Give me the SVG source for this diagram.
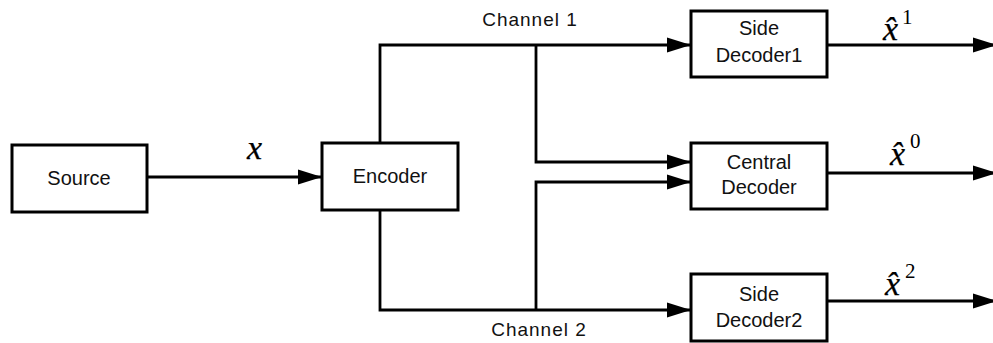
<svg xmlns="http://www.w3.org/2000/svg" width="993" height="343" viewBox="0 0 993 343">
<defs>
<marker id="ah" markerUnits="userSpaceOnUse" markerWidth="24" markerHeight="16" refX="24" refY="8" orient="auto">
<path d="M0,0.5 L24,8 L0,15.5 z" fill="#000"/>
</marker>
<style>
.box{fill:#fff;stroke:#000;stroke-width:3}
.lbl{font-family:"Liberation Sans",Arial,sans-serif;font-size:20px;fill:#111;text-anchor:middle}
.ch{font-family:"Liberation Sans",Arial,sans-serif;font-size:19px;fill:#111;text-anchor:middle;letter-spacing:1px}
.w{fill:none;stroke:#000;stroke-width:2.8}
.a{marker-end:url(#ah)}
.m{font-family:"Liberation Serif","Times New Roman",serif;font-style:italic;font-size:34px;fill:#000;stroke:#000;stroke-width:0.25}
.s{font-family:"Liberation Serif","Times New Roman",serif;font-size:21px;fill:#000}
</style>
</defs>
<rect width="993" height="343" fill="#fff"/>
<g id="connectors">
<path class="w a" d="M147,177 H322"/>
<path class="w a" d="M380,143 V45 H691"/>
<path class="w a" d="M536,45 V162 H691"/>
<path class="w a" d="M380,210 V310 H691"/>
<path class="w a" d="M536,310 V182 H691"/>
<path class="w a" d="M827,45 H997"/>
<path class="w a" d="M827,173 H997"/>
<path class="w a" d="M827,301 H997"/>
</g>
<g id="source"><rect class="box" x="12" y="145" width="135" height="67"/><text class="lbl" x="79" y="185">Source</text></g>
<g id="encoder"><rect class="box" x="322" y="143" width="136" height="67"/><text class="lbl" x="390" y="183">Encoder</text></g>
<g id="side1"><rect class="box" x="691" y="11" width="136" height="66"/><text class="lbl" x="759" y="35">Side</text><text class="lbl" x="759" y="62">Decoder1</text></g>
<g id="central"><rect class="box" x="691" y="143" width="136" height="66"/><text class="lbl" x="759" y="169">Central</text><text class="lbl" x="759" y="194">Decoder</text></g>
<g id="side2"><rect class="box" x="691" y="274" width="136" height="67"/><text class="lbl" x="759" y="301">Side</text><text class="lbl" x="759" y="327">Decoder2</text></g>
<g id="labels">
<text class="ch" x="530" y="26">Channel 1</text>
<text class="ch" x="539" y="336">Channel 2</text>
<text class="m" x="247" y="159">x</text>
<text class="m" x="883" y="40">x̂</text><text class="s" x="902" y="24">1</text>
<text class="m" x="890" y="165">x̂</text><text class="s" x="910" y="148">0</text>
<text class="m" x="885" y="295">x̂</text><text class="s" x="905" y="278">2</text>
</g>
</svg>
